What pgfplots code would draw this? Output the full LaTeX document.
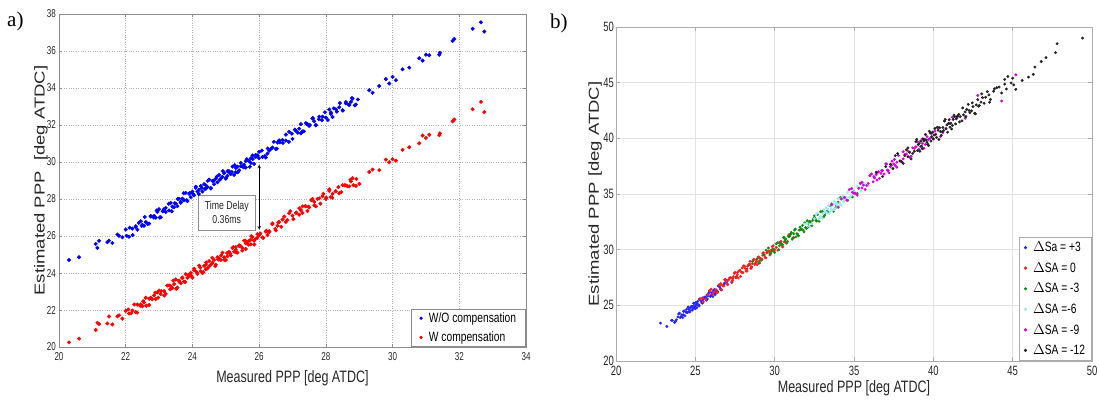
\documentclass[border=0pt]{standalone}
\usepackage{fontspec}
\setmainfont{Liberation Sans}
\newfontfamily\nar{Liberation Sans}[FakeStretch=0.76]
\newfontfamily\narr{Liberation Sans}[FakeStretch=0.7]
\newfontfamily\tnr{Liberation Serif}
\usepackage{graphicx}
\usepackage{pgfplots}
\pgfplotsset{compat=1.18}
\definecolor{pa}{RGB}{0,0,255}
\definecolor{pr}{RGB}{255,0,0}
\definecolor{bb}{RGB}{40,40,255}
\definecolor{br}{RGB}{255,30,30}
\definecolor{bg}{RGB}{20,140,20}
\definecolor{bc}{RGB}{160,232,238}
\definecolor{bm}{RGB}{215,0,215}
\definecolor{bk}{RGB}{35,35,35}
\definecolor{axgray}{RGB}{140,140,140}
\begin{document}
\begin{tikzpicture}
\path[use as bounding box] (0pt,0pt) rectangle (1099pt,399pt);
\node[anchor=base west, inner sep=0, font=\tnr\fontsize{21}{22}\selectfont] at (7pt,372pt) {a)};
\node[anchor=base west, inner sep=0, font=\tnr\fontsize{21}{22}\selectfont] at (550pt,370pt) {b)};
% ---------------- panel a ----------------
\begin{axis}[
  at={(59pt,52pt)}, anchor=south west,
  scale only axis, width=467pt, height=333pt,
  xmin=20, xmax=34, ymin=20, ymax=38,
  xtick={20,22,...,34}, ytick={20,22,...,38},
  grid=major, major grid style={gray!60, dotted, line width=0.6pt},
  axis line style={axgray, line width=0.7pt},
  tick style={axgray, line width=0.5pt}, major tick length=3pt, tick align=inside,
  /pgf/number format/assume math mode=true,
  ticklabel style={font=\narr\fontsize{11.5}{13}\selectfont, text=black!85, inner sep=0pt},
  xticklabel style={anchor=north, yshift=-5pt},
  yticklabel style={anchor=east, xshift=-3pt},
  xlabel={Measured PPP [deg ATDC]},
  ylabel={\scalebox{1}[0.78]{Estimated PPP\ \ [deg ATDC]}},
  every axis x label/.style={at={(axis description cs:0.5,-0.069)}, anchor=north, inner sep=0pt, font=\nar\fontsize{16.5}{18}\selectfont, text=black!85},
  every axis y label/.style={at={(axis description cs:-0.024,0.5)}, rotate=90, anchor=south, inner sep=0pt, font=\fontsize{18.5}{20}\selectfont, text=black!85},
  legend style={at={(1,0)}, anchor=south east, draw=axgray, fill=white, line width=0.7pt,
    font=\nar\fontsize{13.5}{15}\selectfont, inner xsep=8pt, inner ysep=2pt, row sep=5pt, column sep=5pt,
    nodes={inner sep=1.5pt}},
  legend cell align=left,
  legend image code/.code={\draw[#1, mark size=1.3pt] plot coordinates {(0pt,0pt)};},
]
\addplot[only marks, mark=*, mark size=1.8pt, color=pa, mark options={draw=none, fill=pa}] coordinates {
(20.3,24.7)(20.6,24.85)(21.1,25.57)(21.15,25.36)(21.2,25.74)(21.45,25.67)(21.5,25.75)(21.6,25.62)(21.75,26.08)(21.8,26.01)(21.9,25.93)(22.0,26.35)(22.1,25.96)(22.2,26.40)(22.3,26.53)(22.35,26.34)(22.45,26.80)(22.5,26.60)(22.6,26.76)(22.7,26.67)(22.75,27.08)(22.85,27.09)(22.9,26.99)(23.0,27.45)(23.05,27.01)(23.15,27.45)(23.2,27.52)(23.3,27.38)(23.35,27.79)(23.4,27.59)(23.5,27.75)(23.55,27.61)(23.6,28.01)(23.7,28.02)(23.75,27.93)(23.8,28.33)(23.85,27.89)(23.9,28.27)(24.0,28.40)(24.05,28.20)(24.1,28.60)(24.15,28.40)(24.2,28.50)(24.3,28.40)(24.35,28.80)(24.4,28.75)(24.45,28.65)(24.5,29.05)(24.55,28.60)(24.6,28.98)(24.7,29.10)(24.75,28.90)(24.8,29.30)(24.85,29.10)(24.9,29.20)(25.0,29.10)(25.05,29.50)(25.1,29.45)(25.15,29.35)(25.2,29.75)(25.25,29.30)(25.3,29.68)(25.35,29.75)(25.4,29.55)(25.45,29.95)(25.5,29.75)(25.55,29.85)(25.6,29.70)(25.65,30.10)(25.7,30.05)(25.75,29.95)(25.8,30.35)(25.85,29.90)(25.9,30.28)(25.95,30.35)(26.0,30.55)(26.1,30.27)(26.2,30.24)(26.3,30.61)(26.4,30.78)(26.5,30.70)(26.6,31.17)(26.7,31.19)(26.8,31.16)(26.9,31.63)(27.0,31.25)(27.1,31.68)(27.2,31.80)(27.3,31.65)(27.4,32.10)(27.5,31.95)(27.6,32.35)(27.7,32.00)(27.8,32.45)(27.9,32.45)(28.0,32.40)(28.1,32.84)(28.2,32.43)(28.3,32.85)(28.4,32.96)(28.5,32.80)(28.6,33.24)(28.7,33.08)(28.8,33.42)(28.9,33.11)(29.3,33.88)(29.4,33.74)(29.6,34.11)(29.8,34.48)(29.9,34.24)(30.0,34.60)(30.1,34.42)(30.3,35.01)(30.5,35.10)(30.8,35.61)(30.9,35.48)(31.0,35.80)(31.1,35.77)(31.4,35.80)(31.42,35.90)(31.8,36.55)(31.85,36.65)(32.4,37.20)(32.65,37.55)(32.75,37.05)
(23.45,27.55)(23.65,27.80)(24.25,28.70)(24.65,28.80)(25.05,29.25)(25.6,30.05)(24.95,29.40)(25.3,29.45)(25.75,30.20)(22.55,26.55)(22.95,27.30)(26.25,30.45)(26.55,31.05)(27.25,31.55)(27.45,32.05)(27.65,32.20)(28.15,32.60)(28.75,33.25)(24.4,28.55)(23.95,28.10)
(22.03,26.01)(22.12,26.45)(22.21,26.05)(22.30,26.48)(22.39,26.71)(22.48,26.55)(22.57,27.03)(22.66,26.65)(22.75,27.05)(22.84,27.00)(22.93,27.38)(23.02,27.00)(23.11,27.34)(23.20,27.30)(23.29,27.74)(23.38,27.34)(23.47,27.77)(23.56,28.00)(23.65,27.84)(23.74,28.31)(23.83,27.93)(23.92,28.33)(24.01,28.29)(24.10,28.66)(24.19,28.27)(24.28,28.60)(24.37,28.55)(24.46,28.98)(24.55,28.57)(24.64,28.99)(24.73,29.21)(24.82,29.04)(24.91,29.51)(25.00,29.12)(25.09,29.51)(25.18,29.46)(25.27,29.83)(25.36,29.44)(25.45,29.77)(25.54,29.72)(25.63,30.15)(25.72,29.74)(25.81,30.16)(25.90,30.38)(25.99,30.21)(26.08,30.62)(26.17,30.32)(26.26,30.73)(26.35,30.70)(26.44,31.09)(26.53,30.72)(26.62,31.06)(26.71,31.03)(26.80,31.48)(26.89,31.09)(26.98,31.53)(27.07,31.75)(27.16,31.58)(27.25,32.05)(27.34,31.66)(27.43,32.05)(27.52,32.00)(27.61,32.37)(27.70,31.98)(27.79,32.31)(27.88,32.26)(27.97,32.69)(28.06,32.27)(28.15,32.69)(28.24,32.90)(28.33,32.72)(28.42,33.18)(28.51,32.78)(28.60,33.16)(28.69,33.10)(28.78,33.46)(28.87,33.06)(28.96,33.38)
};
\addlegendentry{W/O compensation}
\addplot[only marks, mark=*, mark size=1.8pt, color=pr, mark options={draw=none, fill=pr}] coordinates {
(20.3,20.25)(20.6,20.45)(21.1,20.92)(21.15,21.31)(21.2,21.24)(21.45,21.27)(21.5,21.65)(21.6,21.22)(21.75,21.66)(21.8,21.71)(21.9,21.53)(22.0,21.95)(22.1,21.81)(22.2,21.97)(22.3,21.88)(22.35,22.29)(22.45,22.30)(22.5,22.20)(22.6,22.66)(22.7,22.27)(22.75,22.66)(22.85,22.79)(22.9,22.59)(23.0,23.05)(23.05,22.86)(23.15,23.02)(23.2,22.87)(23.3,23.33)(23.35,23.29)(23.4,23.19)(23.5,23.65)(23.55,23.21)(23.6,23.59)(23.7,23.72)(23.75,23.53)(23.8,23.93)(23.85,23.74)(23.9,23.84)(24.0,23.75)(24.05,24.15)(24.1,24.10)(24.15,24.00)(24.2,24.40)(24.3,24.00)(24.35,24.38)(24.4,24.45)(24.45,24.25)(24.5,24.65)(24.55,24.45)(24.6,24.55)(24.7,24.45)(24.75,24.85)(24.8,24.80)(24.85,24.70)(24.9,25.10)(25.0,24.70)(25.05,25.08)(25.1,25.15)(25.15,24.95)(25.2,25.35)(25.25,25.15)(25.3,25.25)(25.35,25.10)(25.4,25.50)(25.45,25.45)(25.5,25.35)(25.55,25.75)(25.6,25.30)(25.65,25.68)(25.7,25.75)(25.75,25.55)(25.8,25.95)(25.85,25.75)(25.9,25.85)(25.95,26.10)(26.0,26.05)(26.1,25.92)(26.2,26.24)(26.3,26.21)(26.4,26.68)(26.5,26.30)(26.6,26.75)(26.7,26.89)(26.8,26.76)(26.9,27.23)(27.0,27.10)(27.1,27.25)(27.2,27.15)(27.3,27.60)(27.4,27.60)(27.5,27.55)(27.6,28.00)(27.7,27.60)(27.8,28.03)(27.9,28.15)(28.0,28.00)(28.1,28.44)(28.2,28.28)(28.3,28.42)(28.4,28.31)(28.5,28.75)(28.6,28.74)(28.7,28.68)(28.8,29.12)(28.9,28.71)(29.3,29.46)(29.4,29.59)(29.6,29.56)(29.8,30.13)(29.9,29.99)(30.0,30.15)(30.1,30.07)(30.3,30.66)(30.5,30.80)(30.8,31.01)(30.9,31.43)(31.0,31.30)(31.1,31.47)(31.4,31.45)(31.42,31.55)(31.8,32.20)(31.85,32.30)(32.4,32.85)(32.65,33.25)(32.75,32.70)
(23.45,23.40)(23.65,23.45)(24.25,24.10)(24.65,24.70)(25.05,24.90)(25.6,25.60)(24.95,24.85)(25.3,25.40)(25.75,25.80)(22.55,22.40)(22.95,22.95)(26.25,26.05)(26.55,26.55)(27.25,27.40)(27.45,27.35)(27.65,27.85)(28.15,28.10)(28.75,28.95)(24.4,24.20)(23.95,24.00)
(22.075,22.03)(22.165,21.83)(22.255,22.30)(22.345,21.86)(22.435,22.23)(22.525,22.47)(22.615,22.23)(22.705,22.61)(22.795,22.58)(22.885,22.94)(22.975,22.67)(23.065,23.02)(23.155,22.78)(23.245,23.32)(23.335,23.12)(23.425,23.59)(23.515,23.15)(23.605,23.52)(23.695,23.76)(23.785,23.51)(23.875,23.89)(23.965,23.86)(24.055,24.23)(24.145,23.95)(24.235,24.29)(24.325,24.04)(24.415,24.57)(24.505,24.36)(24.595,24.82)(24.685,24.37)(24.775,24.73)(24.865,24.96)(24.955,24.71)(25.045,25.08)(25.135,25.04)(25.225,25.40)(25.315,25.12)(25.405,25.46)(25.495,25.21)(25.585,25.74)(25.675,25.53)(25.765,25.99)(25.855,25.54)(25.945,25.90)(26.035,26.13)(26.125,25.90)(26.215,26.28)(26.305,26.26)(26.395,26.64)(26.485,26.38)(26.575,26.74)(26.665,26.50)(26.755,27.05)(26.845,26.86)(26.935,27.34)(27.025,26.91)(27.115,27.27)(27.205,27.50)(27.295,27.25)(27.385,27.62)(27.475,27.58)(27.565,27.94)(27.655,27.66)(27.745,28.00)(27.835,27.75)(27.925,28.28)(28.015,28.07)(28.105,28.52)(28.195,28.07)(28.285,28.42)(28.375,28.64)(28.465,28.38)(28.555,28.74)(28.645,28.69)(28.735,29.04)(28.825,28.75)(28.915,29.08)(29.005,28.82)
};
\addlegendentry{W compensation}
\draw[<->, >=stealth, line width=0.6pt, black] (axis cs:26,29.85) -- (axis cs:26,26.35);
\node[draw=axgray, fill=white, line width=0.6pt, align=center, inner sep=1.5pt, minimum width=57pt, minimum height=35pt, font=\nar\fontsize{11.5}{14}\selectfont, text=black!85] at (axis cs:25.03,27.25) {Time Delay\\0.36ms};
\end{axis}
% ---------------- panel b ----------------
\begin{axis}[
  at={(616pt,38pt)}, anchor=south west,
  scale only axis, width=476pt, height=334pt,
  xmin=20, xmax=50, ymin=20, ymax=50,
  xtick={20,25,...,50}, ytick={20,25,...,50},
  grid=major, major grid style={gray!22, line width=0.5pt},
  axis line style={gray!65, line width=0.9pt},
  tick style={gray!65, line width=0.5pt}, major tick length=4pt, tick align=inside,
  /pgf/number format/assume math mode=true,
  ticklabel style={font=\narr\fontsize{13.5}{15}\selectfont, text=black!85, inner sep=0pt},
  xticklabel style={anchor=north, yshift=-5pt},
  yticklabel style={anchor=east, xshift=-2pt},
  xlabel={Measured PPP [deg ATDC]},
  ylabel={\scalebox{1}[0.78]{Estimated PPP [deg ATDC]}},
  every axis x label/.style={at={(axis description cs:0.5,-0.057)}, anchor=north, inner sep=0pt, font=\nar\fontsize{16.5}{18}\selectfont, text=black!85},
  every axis y label/.style={at={(axis description cs:-0.0294,0.5)}, rotate=90, anchor=south, inner sep=0pt, font=\fontsize{18.5}{20}\selectfont, text=black!85},
  legend style={at={(1,0)}, anchor=south east, draw=gray!65, fill=white, line width=0.9pt,
    font=\nar\fontsize{13.5}{15}\selectfont, inner xsep=5pt, inner ysep=3pt, row sep=6.2pt, column sep=5pt,
    nodes={inner sep=1.5pt}},
  legend cell align=left,
  legend image code/.code={\draw[#1, mark size=1.1pt] plot coordinates {(0pt,0pt)};},
]
\addplot[only marks, mark=*, mark size=1.25pt, color=bb, mark options={draw=none, fill=bb}] coordinates {
(22.8,23.4)(23.2,23.1)(23.5,23.65)(23.7,23.46)(23.9,23.96)(24.0,24.30)(24.1,24.01)(24.2,23.90)(24.3,24.51)(24.4,24.40)(24.5,24.35)(24.55,24.82)(24.6,24.42)(24.7,24.79)(24.75,24.90)(24.8,24.56)(24.85,24.91)(24.9,25.20)(24.95,24.86)(25.0,24.70)(25.05,25.26)(25.1,25.10)(25.2,25.05)(25.3,25.57)(25.4,25.22)(25.5,25.59)(25.6,25.75)(25.7,25.46)(25.8,25.86)(25.9,26.20)(26.0,25.91)(26.1,25.80)(26.2,26.41)(26.3,26.30)(26.4,26.25)(26.5,26.77)(26.6,26.42)(26.8,26.89)(27.0,27.15)(27.3,27.06)
(24.45,24.65)(24.65,24.55)(25.15,25.35)(25.25,24.95)(25.45,25.40)(25.75,25.95)(26.05,26.15)(26.25,26.05)(24.25,24.15)(23.8,23.70)
(23.55,23.64)(23.75,23.57)(23.95,24.22)(24.05,23.90)(24.15,24.15)(24.25,24.46)(24.35,24.05)(24.45,24.36)(24.55,24.85)(24.6,24.66)(24.65,24.41)(24.75,24.90)(24.8,24.89)(24.85,24.67)(24.9,25.17)(24.95,24.80)(25.0,25.00)(25.05,25.26)(25.1,24.80)(25.15,25.06)(25.25,25.55)(25.35,25.41)(25.45,25.21)(25.55,25.70)(25.65,25.74)(25.75,25.57)(25.85,26.12)(25.95,25.80)(26.05,26.05)(26.15,26.36)(26.25,25.95)(26.35,26.26)(26.45,26.75)(26.55,26.61)(26.65,26.41)(26.85,27.00)
};
\addlegendentry{$\Delta$Sa = +3}
\addplot[only marks, mark=*, mark size=1.25pt, color=br, mark options={draw=none, fill=br}] coordinates {
(25.3,25.58)(25.5,25.32)(25.8,25.97)(26.0,26.45)(26.2,26.20)(26.4,26.15)(26.6,26.95)(26.7,26.80)(26.8,26.73)(26.9,27.32)(27.0,26.89)(27.1,27.31)(27.2,27.48)(27.3,27.12)(27.4,27.57)(27.5,27.95)(27.6,27.60)(27.7,27.45)(27.8,28.15)(27.9,28.00)(28.0,27.93)(28.1,28.52)(28.2,28.09)(28.3,28.51)(28.4,28.68)(28.5,28.32)(28.6,28.77)(28.7,29.15)(28.8,28.80)(28.9,28.65)(29.0,29.35)(29.1,29.20)(29.2,29.13)(29.3,29.72)(29.4,29.29)(29.5,29.71)(29.6,29.88)(29.7,29.52)(29.8,29.97)(29.9,30.35)(30.0,30.00)(30.2,29.95)(30.4,30.75)(30.6,30.70)(30.8,30.73)(31.0,31.42)(31.2,31.09)
(27.95,28.35)(28.25,28.25)(28.45,28.95)(28.55,28.45)(28.85,29.10)(29.05,29.00)(29.25,29.50)(27.65,27.95)(27.35,27.40)(28.05,28.55)
(25.45,25.66)(25.65,25.54)(25.9,26.32)(26.1,26.03)(26.3,26.40)(26.5,26.85)(26.65,26.40)(26.75,26.75)(26.85,27.30)(26.95,27.12)(27.05,26.87)(27.15,27.43)(27.25,27.46)(27.35,27.24)(27.45,27.87)(27.55,27.48)(27.65,27.75)(27.75,28.10)(27.85,27.60)(27.95,27.95)(28.05,28.50)(28.15,28.32)(28.25,28.07)(28.35,28.63)(28.45,28.66)(28.55,28.44)(28.65,29.07)(28.75,28.68)(28.85,28.95)(28.95,29.30)(29.05,28.80)(29.15,29.15)(29.25,29.70)(29.35,29.52)(29.45,29.27)(29.55,29.83)(29.65,29.86)(29.75,29.64)(29.85,30.27)(29.95,29.88)(30.1,30.20)(30.3,30.65)(30.5,30.25)(30.7,30.70)(30.9,31.35)
};
\addlegendentry{$\Delta$SA = 0}
\addplot[only marks, mark=*, mark size=1.25pt, color=bg, mark options={draw=none, fill=bg}] coordinates {
(28.6,28.95)(29.0,28.83)(29.3,29.53)(29.6,30.15)(29.8,29.83)(30.0,29.75)(30.2,30.63)(30.4,30.55)(30.5,30.45)(30.6,31.11)(30.8,30.71)(30.9,31.17)(31.0,31.35)(31.1,30.93)(31.2,31.43)(31.3,31.85)(31.4,31.43)(31.5,31.25)(31.6,32.03)(31.7,31.85)(31.8,31.75)(31.9,32.41)(32.0,31.91)(32.1,32.37)(32.2,32.55)(32.3,32.13)(32.4,32.63)(32.5,33.05)(32.6,32.63)(32.8,32.55)(33.0,33.43)(33.2,33.35)(33.4,33.35)(33.6,34.11)(33.8,33.71)(34.0,34.27)(34.3,34.65)(34.6,34.43)(35.0,35.23)(35.4,35.95)
(30.3,30.35)(30.7,30.95)(31.05,31.55)(31.35,31.15)(31.55,31.75)(32.15,32.05)(32.7,33.15)(33.1,32.95)(34.8,34.75)(35.2,35.05)
(28.9,29.17)(29.15,29.06)(29.45,29.96)(29.7,29.65)(29.9,30.05)(30.1,30.53)(30.25,30.00)(30.45,30.48)(30.55,31.10)(30.65,30.88)(30.75,30.58)(30.85,31.20)(30.95,31.22)(31.15,31.06)(31.25,31.76)(31.45,31.40)(31.65,31.80)(31.75,32.18)(31.85,31.60)(31.95,31.98)(32.05,32.60)(32.25,32.48)(32.35,32.18)(32.45,32.80)(32.55,32.82)(32.65,32.56)(32.9,33.41)(33.15,33.10)(33.3,33.45)(33.5,33.93)(33.7,33.45)(33.9,33.93)(34.15,34.70)(34.45,34.68)(34.9,34.73)
};
\addlegendentry{$\Delta$SA = -3}
\addplot[only marks, mark=*, mark size=1.25pt, color=bc, mark options={draw=none, fill=bc}] coordinates {
(31.9,32.30)(32.2,32.08)(32.5,32.78)(32.7,33.30)(32.9,32.98)(33.0,32.80)(33.1,33.58)(33.2,33.40)(33.3,33.30)(33.4,33.96)(33.5,33.46)(33.6,33.92)(33.7,34.10)(33.8,33.68)(33.9,34.18)(34.0,34.60)(34.1,34.18)(34.2,34.00)(34.3,34.78)(34.5,34.70)(34.7,34.70)(34.9,35.46)(35.1,35.06)(35.3,35.62)(35.6,36.00)(35.9,35.78)(36.3,36.58)
(33.05,33.25)(33.35,33.65)(33.65,33.55)(33.95,33.95)(34.4,34.45)(32.8,32.75)
(32.05,32.37)(32.35,32.31)(32.6,33.16)(32.85,32.85)(33.15,33.35)(33.25,33.73)(33.45,33.25)(33.55,33.63)(33.75,34.35)(33.85,34.13)(34.05,33.93)(34.15,34.55)(34.25,34.57)(34.35,34.31)(34.6,35.16)(34.8,34.80)(35.0,35.20)(35.2,35.68)(35.45,35.25)(35.75,35.83)
};
\addlegendentry{$\Delta$SA =-6}
\addplot[only marks, mark=*, mark size=1.25pt, color=bm, mark options={draw=none, fill=bm}] coordinates {
(33.6,34.05)(34.0,33.80)(34.4,34.70)(34.7,35.40)(35.0,35.05)(35.2,34.90)(35.4,35.95)(35.6,35.80)(35.8,35.75)(36.0,36.65)(36.2,36.10)(36.4,36.75)(36.5,36.95)(36.6,36.40)(36.8,37.10)(37.0,37.70)(37.1,37.15)(37.2,36.90)(37.4,37.95)(37.5,37.70)(37.6,37.55)(37.8,38.45)(38.0,37.90)(38.2,38.55)(38.4,38.85)(38.6,38.40)(38.8,39.10)(39.0,39.70)(39.2,39.25)(39.4,39.10)(39.6,40.15)(39.8,40.00)(40.0,39.95)(40.3,40.95)(40.6,40.50)(41.0,41.35)(41.5,41.95)(42.0,41.80)
(42.8,43.85)(44.3,43.35)(45.2,45.7)
(35.5,35.55)(36.3,36.45)(36.7,36.85)(37.3,37.45)(37.7,37.85)(38.1,38.15)(38.5,38.75)(39.3,39.55)(34.9,35.15)(39.9,40.45)
(34.2,34.55)(34.55,34.45)(34.85,35.50)(35.1,35.05)(35.3,35.50)(35.5,36.05)(35.7,35.40)(35.9,35.95)(36.1,36.80)(36.25,36.55)(36.45,36.25)(36.55,37.00)(36.75,37.10)(36.9,36.80)(37.05,37.70)(37.15,37.10)(37.35,37.55)(37.55,38.10)(37.7,37.40)(37.9,37.95)(38.1,38.80)(38.3,38.60)(38.5,38.30)(38.7,39.15)(38.9,39.25)(39.1,39.00)(39.3,39.95)(39.5,39.45)(39.7,39.90)(40.1,40.65)(40.45,40.15)(40.8,40.85)(41.2,41.90)
};
\addlegendentry{$\Delta$SA = -9}
\addplot[only marks, mark=*, mark size=1.25pt, color=bk, mark options={draw=none, fill=bk}] coordinates {
(36.4,36.95)(36.8,36.57)(37.3,37.67)(37.6,38.45)(37.9,37.97)(38.1,37.75)(38.3,38.97)(38.5,38.75)(38.7,38.65)(38.9,39.69)(39.0,38.89)(39.1,39.53)(39.2,39.75)(39.3,39.07)(39.4,39.77)(39.5,40.35)(39.6,39.67)(39.7,39.35)(39.8,40.47)(39.9,40.15)(40.0,39.95)(40.1,40.89)(40.2,40.09)(40.3,40.73)(40.4,40.95)(40.5,40.27)(40.6,40.97)(40.7,41.55)(40.8,40.87)(40.9,40.55)(41.0,41.67)(41.1,41.35)(41.2,41.15)(41.3,42.09)(41.4,41.29)(41.5,41.93)(41.6,42.15)(41.8,41.57)(42.0,42.37)(42.2,43.05)(42.4,42.47)(42.6,42.25)(42.8,43.47)(43.0,43.25)(43.2,43.15)(43.4,44.19)(43.6,43.49)(43.8,44.23)(44.0,44.55)(44.3,44.07)(44.5,44.87)(44.7,45.55)(44.9,44.97)
(45.07,44.8)(45.2,44.4)(45.6,45.2)(46.3,45.75)(46.4,46.4)(46.8,46.9)(47.1,47.25)(47.7,47.7)(47.8,48.5)(49.4,49.0)(44.5,45.3)(45.0,45.4)(46.0,45.5)
(38.4,38.35)(39.25,39.30)(39.55,39.85)(39.95,40.55)(40.15,40.35)(40.45,40.60)(40.65,40.70)(40.85,41.20)(41.05,41.00)(41.25,41.70)(41.45,41.75)(41.7,41.95)(41.9,42.10)(42.1,42.60)(42.3,42.30)(42.5,42.85)(42.7,43.00)(42.9,42.95)(43.1,43.65)(43.5,43.90)
(37.0,37.46)(37.45,37.28)(37.75,38.63)(38.0,37.90)(38.2,38.45)(38.4,39.14)(38.6,38.15)(38.8,38.84)(38.95,39.90)(39.05,39.44)(39.15,38.84)(39.35,39.95)(39.45,39.91)(39.65,39.48)(39.75,40.63)(39.85,39.75)(40.05,40.30)(40.25,40.99)(40.35,39.90)(40.55,40.59)(40.75,41.70)(40.95,41.34)(41.15,40.84)(41.35,41.95)(41.55,42.01)(41.65,41.48)(41.85,42.73)(42.05,41.95)(42.25,42.50)(42.45,43.19)(42.65,42.20)(42.85,42.89)(43.05,44.00)(43.3,43.69)(43.55,43.24)(43.85,44.45)(44.15,44.61)(44.6,44.43)
};
\addlegendentry{$\Delta$SA = -12}
\end{axis}
\end{tikzpicture}
\end{document}
